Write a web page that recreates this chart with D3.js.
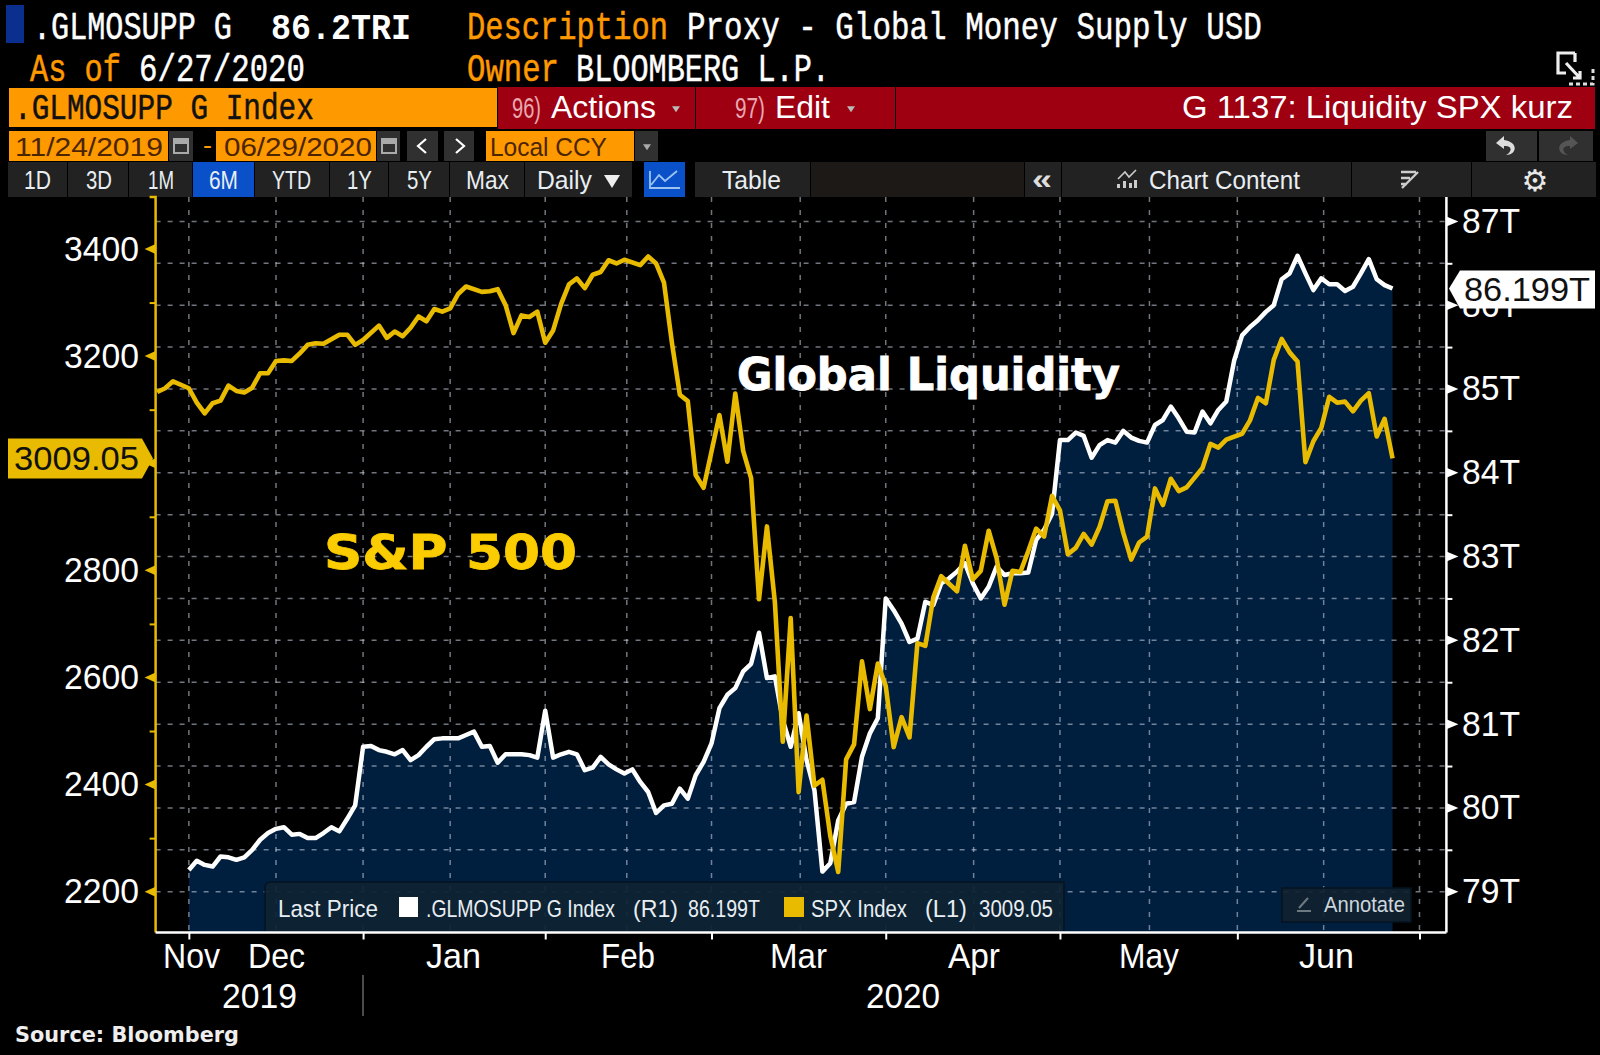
<!DOCTYPE html>
<html>
<head>
<title>Global Liquidity vs S&amp;P 500</title>
<script src="https://d3js.org/d3.v7.min.js"></script>
<style>
    html, body { margin: 0; padding: 0; background: #000; }
    svg { display: block; }
</style>
</head>
<body>
<svg id="chart" width="1600" height="1055"></svg>
<script>
// slot = one weekday on Bloomberg's axis, plus weekend month ends where the M2 series has a print
// S&P 500, slot 0 = 25 Nov 2019, null = no print that slot
const spxValues = [3133, 3140, 3153, null, 3140, 3113, 3093, 3112, 3117, 3145,
    3135, 3132, 3141, 3168, 3168, 3191, 3192, 3191, 3205, 3221,
    3224, 3223, null, 3240, 3240, 3221, 3230, null, 3257, 3234,
    3246, 3237, 3253, 3274, 3265, 3288, 3283, 3289, 3316, 3330,
    null, 3320, 3321, 3325, 3295, 3243, 3276, 3273, 3283, 3225,
    3248, 3297, 3334, 3345, 3327, 3352, 3357, 3379, 3373, 3380,
    null, 3370, 3386, 3373, 3337, 3225, 3128, 3116, 2978, 2954,
    null, 3090, 3003, 3130, 3023, 2972, 2746, 2882, 2741, 2480,
    2711, 2386, 2529, 2398, 2409, 2304, 2237, 2447, 2475, 2630,
    2541, 2626, 2584, 2470, 2526, 2488, 2664, 2659, 2749, 2789,
    null, 2761, 2846, 2783, 2799, 2874, 2823, 2736, 2799, 2797,
    2836, 2878, 2863, 2939, 2912, 2830, 2842, 2868, 2848, 2881,
    2929, 2930, 2870, 2820, 2852, 2863, 2953, 2922, 2971, 2948,
    2955, null, 2991, 3036, 3029, 3044, null, 3055, 3080, 3122,
    3112, 3193, 3232, 3207, 3190, 3002, 3041, 3066, 3124, 3113,
    3115, 3097, 3117, 3131, 3050, 3083, 3009.05]

// global money supply in USD trillions, starts at slot 4
const liqValues = [null, null, null, null, 79.26, 79.37, 79.32, 79.30, 79.42, 79.41,
    79.38, 79.41, 79.50, 79.62, 79.70, 79.75, 79.77, 79.68, 79.69, 79.64,
    79.64, 79.70, 79.77, 79.72, 79.87, 80.03, 80.73, 80.74, 80.69, 80.67,
    80.64, 80.69, 80.57, 80.63, 80.73, 80.82, 80.83, 80.83, 80.83, 80.87,
    80.91, 80.73, 80.74, 80.54, 80.64, 80.64, 80.64, 80.63, 80.60, 81.16,
    80.60, 80.64, 80.67, 80.64, 80.45, 80.48, 80.61, 80.52, 80.46, 80.41,
    80.46, 80.31, 80.19, 79.94, 80.03, 80.05, 80.23, 80.11, 80.39, 80.55,
    80.77, 81.19, 81.35, 81.43, 81.63, 81.72, 82.09, 81.55, 81.57, 81.05,
    80.73, 81.13, 80.57, 80.21, 79.24, 79.34, 79.85, 80.05, 80.07, 80.61,
    80.89, 81.07, 82.50, 82.36, 82.20, 81.98, 82.02, 82.46, 82.42, 82.68,
    82.74, 82.82, 82.92, 82.68, 82.50, 82.64, 82.88, 82.78, 82.80, 82.80,
    82.81, 83.20, 83.32, 83.51, 84.39, 84.39, 84.48, 84.44, 84.18, 84.33,
    84.39, 84.36, 84.50, 84.42, 84.38, 84.36, 84.57, 84.63, 84.79, 84.65,
    84.49, 84.48, 84.73, 84.59, 84.75, 84.85, 85.34, 85.64, 85.74, 85.82,
    85.92, 86.00, 86.31, 86.38, 86.59, 86.38, 86.18, 86.32, 86.25, 86.25,
    86.17, 86.22, 86.38, 86.55, 86.31, 86.24, 86.199]

const monthEndSlots = [4, 26, 49, 70, 92, 114, 136.4, 159.4]
const midMonthSlots = [15, 37, 59.3, 81.2, 103.1, 125.3, 147.3]
const leftMajor = [2200, 2400, 2600, 2800, 3000, 3200, 3400]
const leftMinor = [2300, 2500, 2700, 2900, 3100, 3300]
const leftLabels = [2200, 2400, 2600, 2800, 3200, 3400]
const rightMajor = [79, 80, 81, 82, 83, 84, 85, 86, 87]
const rightMinor = [79.5, 80.5, 81.5, 82.5, 83.5, 84.5, 85.5, 86.5]
const monthLabels = ["Nov", "Dec", "Jan", "Feb", "Mar", "Apr", "May", "Jun"]
const monthLabelX = [[163, 220], [248, 305], [426, 481], [601, 655], [770, 827], [948, 1000], [1119, 1179], [1299, 1354]]

const gold = "#e8bb00", orange = "#ff9900", red = "#9e0012", navy = "#001e3e"
const mono = "'Liberation Mono','DejaVu Sans Mono',monospace"
const narrow = "'Liberation Sans Narrow','Liberation Sans',sans-serif"
const plotL = 155.6, plotR = 1446.4, plotT = 197, plotB = 932.5

let svg = d3.select("#chart")
svg.append("rect").attr("width", 1600).attr("height", 1055).attr("fill", "#000")

let x = d3.scaleLinear().domain([-0.2, 162.8]).range([plotL, plotR])
let yL = d3.scaleLinear().domain([2200, 3400]).range([891.7, 249])
let yR = d3.scaleLinear().domain([79, 87]).range([891.7, 221.4])

// text squeezed sideways into the width it has on the terminal
function label(g, txt, x0, x1, base, size, fill, fam, weight) {
    let t = g.append("text")
        .attr("font-family", fam || mono)
        .attr("font-size", size)
        .attr("font-weight", weight || "normal")
        .attr("fill", fill)
        .text(txt)
    let sx = (x1 - x0) / t.node().getComputedTextLength()
    t.attr("transform", `translate(${x0},${base}) scale(${sx},1)`)
    if (!fam) t.attr("stroke", fill).attr("stroke-width", 0.5)
    return t
}
function box(g, x0, y0, x1, y1, fill) {
    return g.append("rect").attr("x", x0).attr("y", y0).attr("width", x1 - x0).attr("height", y1 - y0).attr("fill", fill)
}

// ---- header ----
let head = svg.append("g")
box(head, 6, 5, 24, 43, "#0b2f8f")
label(head, ".GLMOSUPP G", 33, 232, 39, 38, "#fff")
label(head, "86.2TRI", 271, 411, 39, 36, "#fff", mono, "bold")
label(head, "Description", 467, 668, 39, 38, orange)
label(head, "Proxy - Global Money Supply USD", 687, 1262, 39, 38, "#fff")
label(head, "As of", 30, 121, 81, 38, orange)
label(head, "6/27/2020", 139, 305, 81, 38, "#fff")
label(head, "Owner", 467, 559, 81, 38, orange)
label(head, "BLOOMBERG L.P.", 576, 830, 81, 38, "#fff")

// popout icon top right
head.append("path").attr("d", "M1575 53H1558V73H1566").attr("fill", "none").attr("stroke", "#eee").attr("stroke-width", 3.2)
head.append("path").attr("d", "M1575 53V62M1566 63L1580 78M1580 71V78H1573").attr("fill", "none").attr("stroke", "#eee").attr("stroke-width", 3.2)
head.append("path").attr("d", "M1569 84H1593V68").attr("fill", "none").attr("stroke", "#ddd").attr("stroke-width", 3).attr("stroke-dasharray", "4 3")

// ---- command bar ----
box(head, 9, 88, 497, 127, orange)
label(head, ".GLMOSUPP G Index", 14, 314, 119, 36, "#111")
box(head, 498, 87, 695, 129, red)
box(head, 696, 87, 895, 129, red)
box(head, 896, 87, 1595, 129, red)
label(head, "96)", 512, 541, 118, 30, "#e8a8b0", narrow)
label(head, "Actions", 551, 656, 118, 32, "#fff", narrow)
label(head, "97)", 735, 765, 118, 30, "#e8a8b0", narrow)
label(head, "Edit", 775, 830, 118, 32, "#fff", narrow)
label(head, "G 1137: Liquidity SPX kurz", 1182, 1573, 118, 32, "#fff", narrow)
const arrowDown = (cx, cy, s) => `M${cx - s} ${cy - s * 0.7}H${cx + s}L${cx} ${cy + s * 0.8}Z`
head.append("path").attr("d", arrowDown(676, 109, 4)).attr("fill", "#bbb")
head.append("path").attr("d", arrowDown(851, 109, 4)).attr("fill", "#bbb")

// ---- date row ----
box(head, 9, 131, 168, 161, orange)
box(head, 216, 131, 376, 161, orange)
box(head, 486, 131, 634, 161, orange)
label(head, "11/24/2019", 15, 163, 156, 26, "#4b2500", narrow)
label(head, "-", 203, 212, 154, 26, orange, narrow)
label(head, "06/29/2020", 224, 372, 156, 26, "#4b2500", narrow)
label(head, "Local CCY", 490, 607, 156, 26, "#4b2500", narrow)
;[[169, 193], [377, 400], [407, 438], [444, 474], [635, 658], [1486, 1537], [1539, 1593]].forEach(b => box(head, b[0], 131, b[1], 161, "#303030"))
;[174, 382].forEach(c => {
    head.append("rect").attr("x", c).attr("y", 139).attr("width", 14).attr("height", 14).attr("fill", "none").attr("stroke", "#aaa").attr("stroke-width", 2)
    box(head, c, 139, c + 14, 144, "#aaa")
})
head.append("path").attr("d", "M426 139L418 146L426 153").attr("fill", "none").attr("stroke", "#fff").attr("stroke-width", 2.2)
head.append("path").attr("d", "M456 139L464 146L456 153").attr("fill", "none").attr("stroke", "#fff").attr("stroke-width", 2.2)
head.append("path").attr("d", arrowDown(647, 147, 4)).attr("fill", "#aaa")
head.append("path").attr("d", "M1504 136L1496 143L1504 149V146C1512 145 1513 151 1506 155C1517 155 1519 142 1504 140Z").attr("fill", "#ddd")
head.append("path").attr("d", "M1570 136L1578 143L1570 149V146C1562 145 1561 151 1568 155C1557 155 1555 142 1570 140Z").attr("fill", "#555")

// ---- button row ----
;[[8, 67], [68, 128], [129, 192], [255, 329], [330, 388], [389, 449], [450, 524], [525, 632], [695, 810], [1062, 1351], [1352, 1471], [1472, 1596]]
    .forEach(b => box(head, b[0], 162, b[1], 197, "#222"))
box(head, 811, 162, 1024, 197, "#1c1917")
box(head, 1025, 162, 1061, 197, "#222")
box(head, 193, 162, 254, 197, "#0a50c8")
box(head, 644, 162, 685, 197, "#0a50c8")
const buttons = [["1D", 24, 51], ["3D", 86, 112], ["1M", 148, 174], ["6M", 209, 238], ["YTD", 272, 311], ["1Y", 347, 372], ["5Y", 407, 432], ["Max", 466, 509], ["Daily", 537, 592], ["Table", 722, 781], ["Chart Content", 1149, 1300]]
buttons.forEach(b => label(head, b[0], b[1], b[2], 189, 25, "#e8eef2", narrow))
head.append("path").attr("d", "M604 175H620L612 188Z").attr("fill", "#eee")
head.append("path").attr("d", "M651 185L659 175L665 181L677 171M650 171V188H680").attr("fill", "none").attr("stroke", "#9cc4f0").attr("stroke-width", 1.8)
label(head, "«", 1032, 1052, 189, 30, "#ddd", narrow, "bold")
head.append("path").attr("d", "M1118 179L1125 172L1129 177L1136 170").attr("fill", "none").attr("stroke", "#ccc").attr("stroke-width", 1.6)
head.append("path").attr("d", "M1117 188V184H1120V188ZM1123 188V181H1126V188ZM1129 188V183H1132V188ZM1134 188V180H1137V188Z").attr("fill", "#ccc")
head.append("path").attr("d", "M1401 172H1416M1401 178H1410M1401 184H1407M1402 188L1418 172").attr("fill", "none").attr("stroke", "#ccc").attr("stroke-width", 2.4)
head.append("text").attr("x", 1535).attr("y", 191).attr("text-anchor", "middle").attr("font-family", "DejaVu Sans").attr("font-size", 30).attr("fill", "#e8e8e8").text("\u2699")

// ---- plot ----
let slots = d3.range(spxValues.length)
let liqPts = slots.filter(i => liqValues[i] !== null)
let spxPts = slots.filter(i => spxValues[i] !== null)

let area = d3.area().x(i => x(i)).y0(plotB).y1(i => yR(liqValues[i]))
let liqLine = d3.line().x(i => x(i)).y(i => yR(liqValues[i]))
let spxLine = d3.line().x(i => x(i)).y(i => yL(spxValues[i]))

svg.append("path").datum(liqPts).attr("d", area).attr("fill", navy)

// grid lines, half T steps across and month/mid month down
let grid = svg.append("g").attr("fill", "none").attr("stroke", "rgba(205,215,230,0.55)").attr("stroke-width", 1.5)
grid.selectAll("line.h").data(rightMajor.concat(rightMinor)).enter().append("line")
    .attr("class", "h")
    .attr("x1", plotL).attr("x2", plotR)
    .attr("y1", d => yR(d)).attr("y2", d => yR(d))
    .attr("stroke-dasharray", "5 7")
grid.selectAll("line.v").data(monthEndSlots.concat(midMonthSlots)).enter().append("line")
    .attr("class", "v")
    .attr("x1", d => x(d)).attr("x2", d => x(d))
    .attr("y1", plotT).attr("y2", plotB)
    .attr("stroke-dasharray", "5 8")

// legend and annotate sit under the lines
let legend = svg.append("g")
legend.append("path").attr("d", `M265 ${plotB}V888Q265 882 271 882H1064V${plotB}Z`).attr("fill", "#0e2233").attr("fill-opacity", 0.93)
legend.append("path").attr("d", `M265 ${plotB}V888Q265 882 271 882H1064V${plotB}`).attr("fill", "none").attr("stroke", "#061320").attr("stroke-width", 1.5)
box(legend, 1282, 888, 1411, 922, "#10222f").attr("fill-opacity", 0.92).attr("stroke", "#061320").attr("stroke-width", 1.5)
label(legend, "Last Price", 278, 378, 917, 24, "#e8eef2", narrow)
box(legend, 399, 897, 418, 917, "#fff")
label(legend, ".GLMOSUPP G Index", 426, 615, 917, 24, "#e8eef2", narrow)
label(legend, "(R1)", 633, 678, 917, 24, "#e8eef2", narrow)
label(legend, "86.199T", 688, 760, 917, 24, "#e8eef2", narrow)
box(legend, 784, 897, 804, 917, gold)
label(legend, "SPX Index", 811, 907, 917, 24, "#e8eef2", narrow)
label(legend, "(L1)", 925, 967, 917, 24, "#e8eef2", narrow)
label(legend, "3009.05", 979, 1053, 917, 24, "#e8eef2", narrow)
label(legend, "Annotate", 1324, 1405, 912, 22, "#cdd6dc", narrow)
legend.append("path").attr("d", "M1297 911H1311M1299 908L1308 898").attr("fill", "none").attr("stroke", "#6d7880").attr("stroke-width", 2)

svg.append("path").datum(liqPts).attr("d", liqLine).attr("fill", "none").attr("stroke", "#fff").attr("stroke-width", 4.5).attr("stroke-linejoin", "round")
svg.append("path").datum(spxPts).attr("d", spxLine).attr("fill", "none").attr("stroke", gold).attr("stroke-width", 4.6).attr("stroke-linejoin", "round")

// ---- axes ----
let axL = svg.append("g").attr("transform", `translate(${plotL},0)`)
    .call(d3.axisLeft(yL).tickValues(leftMajor.concat(leftMinor)).tickSize(6).tickFormat(""))
axL.selectAll("line").attr("stroke", gold).attr("stroke-width", 2)
axL.select(".domain").remove()
axL.append("path").attr("d", `M-6 ${plotT}H0V${plotB}`).attr("fill", "none").attr("stroke", gold).attr("stroke-width", 2.5)
axL.selectAll("path.mark").data(leftMajor).enter().append("path")
    .attr("class", "mark")
    .attr("d", d => `M0 ${yL(d) - 5}L-11 ${yL(d)}L0 ${yL(d) + 5}Z`)
    .attr("fill", gold)

let axR = svg.append("g").attr("transform", `translate(${plotR},0)`)
    .call(d3.axisRight(yR).tickValues(rightMajor.concat(rightMinor)).tickSize(6).tickFormat(""))
axR.selectAll("line").attr("stroke", "#fff").attr("stroke-width", 2)
axR.select(".domain").remove()
axR.append("line").attr("y1", plotT).attr("y2", plotB).attr("stroke", "#fff").attr("stroke-width", 2.5)
axR.selectAll("path.mark").data(rightMajor).enter().append("path")
    .attr("class", "mark")
    .attr("d", d => `M0 ${yR(d) - 5}L12 ${yR(d)}L0 ${yR(d) + 5}Z`)
    .attr("fill", "#fff")

let axB = svg.append("g").attr("transform", `translate(0,${plotB})`)
    .call(d3.axisBottom(x).tickValues(monthEndSlots).tickSize(7).tickFormat(""))
axB.selectAll("line").attr("stroke", "#fff").attr("stroke-width", 2)
axB.select(".domain").remove()
axB.append("line").attr("x1", plotL).attr("x2", plotR).attr("stroke", "#fff").attr("stroke-width", 2.5)

// tick labels
let labels = svg.append("g")
leftLabels.forEach(v => label(labels, String(v), 64, 139, yL(v) + 11.5, 35, "#fff", narrow))
rightMajor.forEach(v => label(labels, v + "T", 1462, 1520, yR(v) + 11.5, 35, "#fff", narrow))
monthLabels.forEach((m, i) => label(labels, m, monthLabelX[i][0], monthLabelX[i][1], 968, 35, "#fff", narrow))
label(labels, "2019", 222, 297, 1008, 35, "#fff", narrow)
label(labels, "2020", 866, 940, 1008, 35, "#fff", narrow)
labels.append("line").attr("x1", 363).attr("x2", 363).attr("y1", 975).attr("y2", 1016).attr("stroke", "#666").attr("stroke-width", 1.5)
label(labels, "Source: Bloomberg", 15, 239, 1042, 21, "#eee", "'DejaVu Sans'", "bold")

// last value tags
let tY = yL(3009.05)
svg.append("path").attr("d", `M8 ${tY - 20}H142L153 ${tY}L142 ${tY + 20}H8Z`).attr("fill", gold)
label(svg, "3009.05", 14, 139, tY + 12, 34, "#111", narrow)
let rY = yR(86.199)
svg.append("path").attr("d", `M1449 ${rY}L1460 ${rY - 18}H1595V${rY + 20}H1460Z`).attr("fill", "#fff")
label(svg, "86.199T", 1464, 1590, rY + 12, 34, "#111", narrow)

// chart annotations
label(svg, "Global Liquidity", 737, 1120, 390, 45, "#fff", "'DejaVu Sans'", "bold").attr("stroke", "#fff").attr("stroke-width", 0.8)
label(svg, "S&P 500", 324, 577, 569, 48, "#fbcc00", "'DejaVu Sans'", "bold").attr("stroke", "#fbcc00").attr("stroke-width", 0.8)
</script>
</body>
</html>
